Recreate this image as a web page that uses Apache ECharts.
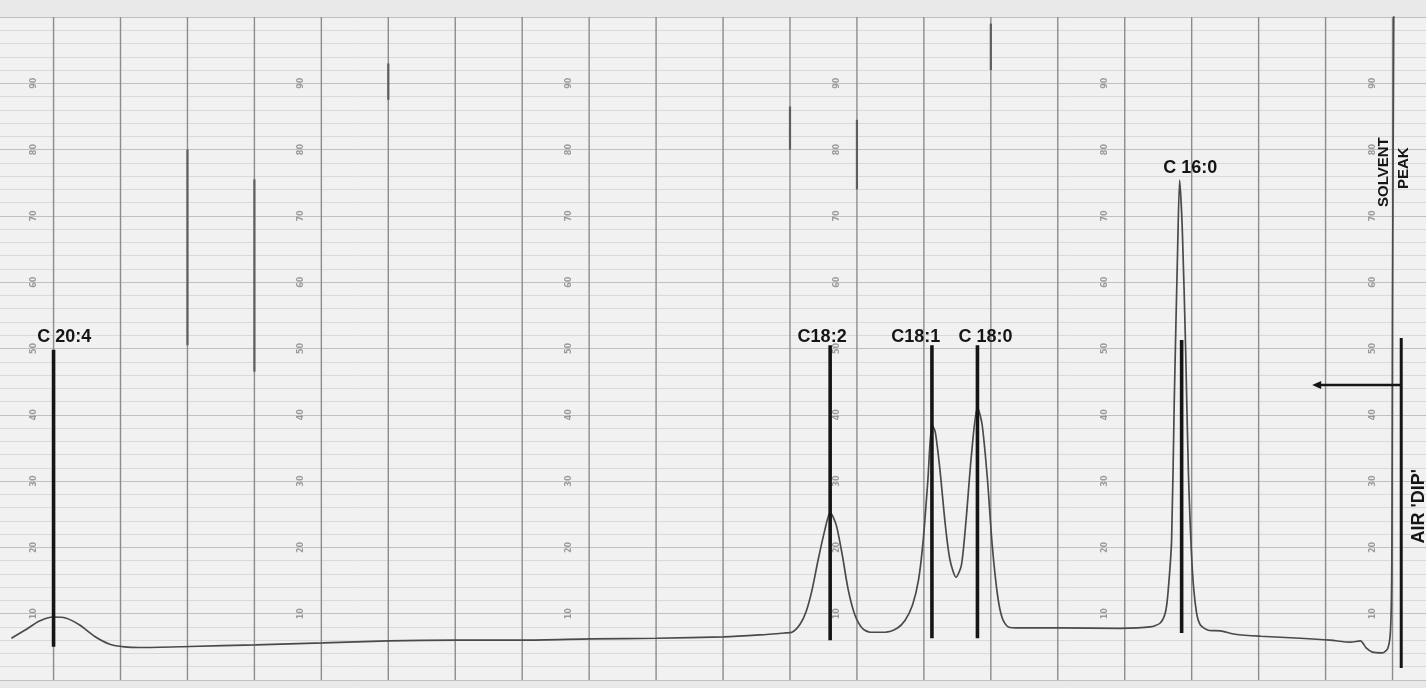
<!DOCTYPE html>
<html>
<head>
<meta charset="utf-8">
<script src="https://cdn.jsdelivr.net/npm/echarts@6/dist/echarts.min.js"></script>
<style>
  html, body { margin: 0; padding: 0; background: #e9e9e9; }
  #chart { width: 1426px; height: 688px; }
</style>
</head>
<body>
<div id="chart"></div>
<script>
// Recorder trace: position along the strip in chart divisions (one per vertical rule),
// pen deflection in % of full scale.
const retention = [
  -0.63, -0.43, -0.21, 0.00, 0.18, 0.39, 0.61, 0.84, 1.06, 1.29, 2.03, 3.02, 4.02, 5.00,
  6.02, 7.03, 8.03, 9.01, 10.01, 10.55, 10.93, 11.03, 11.15, 11.24, 11.33, 11.42, 11.52,
  11.60, 11.69, 11.78, 11.87, 11.97, 12.08, 12.20, 12.42, 12.60, 12.72, 12.83, 12.92,
  12.99, 13.06, 13.12, 13.17, 13.24, 13.32, 13.39, 13.48, 13.56, 13.63, 13.71, 13.80,
  13.87, 13.95, 14.02, 14.10, 14.17, 14.26, 14.44, 15.04, 15.93, 16.38, 16.53, 16.61,
  16.65, 16.70, 16.74, 16.79, 16.82, 16.86, 16.91, 16.95, 17.01, 17.07, 17.13, 17.25,
  17.43, 17.65, 18.03, 18.62, 19.07, 19.37, 19.52, 19.61, 19.70, 19.85, 19.93, 19.97,
  19.99, 20.00, 20.02
];
const response = [
  6.3, 7.5, 8.9, 9.5, 9.35, 8.3, 6.6, 5.4, 5.0, 4.9, 5.05, 5.3, 5.6, 5.9,
  6.0, 6.0, 6.2, 6.3, 6.5, 6.8, 7.1, 7.2, 8.4, 10.3, 13.6, 18.1, 22.6,
  25.3, 23.4, 18.9, 13.6, 9.8, 7.8, 7.2, 7.2, 7.8, 9.0, 11.3, 15.1,
  21.1, 30.2, 38.5, 37.4, 31.7, 23.4, 18.1, 15.5, 17.3, 24.1, 33.9, 41.2,
  38.5, 30.2, 20.4, 12.8, 9.35, 8.0, 7.85, 7.85, 7.8, 8.0, 8.6, 10.3,
  13.6, 21.1, 42.2, 64.9, 75.4, 67.9, 49.8, 31.7, 16.6, 10.3, 8.3, 7.5,
  7.4, 6.9, 6.6, 6.3, 6.0, 5.7, 5.9, 4.8, 4.2, 4.1, 4.8, 7.5,
  18.1, 57.0, 104.0
];

// Vertical rules of the recorder paper, one per division
const paperRules = [0, 1, 2, 3, 4, 5, 6, 7, 8, 9, 10, 11, 12, 13, 14, 15, 16, 17, 18, 19, 20];

// Stretches of rule that were traced over in pencil: [rule, from %, to %]
const pencilledRules = [
  [2, 50.5, 80.0],
  [3, 46.5, 75.5],
  [5, 87.5, 93.0],
  [11, 80.0, 86.5],
  [12, 74.0, 84.5],
  [14, 92.0, 99.0]
];

// Hand-drawn peak identification bars
const peakNames      = ['C 20:4', 'C18:2', 'C18:1', 'C 18:0', 'C 16:0'];
const peakBarTime    = [0.00, 11.60, 13.12, 13.80, 16.85];
const peakBarTop     = [49.8, 50.5, 50.5, 50.5, 51.3];
const peakBarBottom  = [5.0, 6.0, 6.3, 6.3, 7.1];
const peakLabelTime  = [0.16, 11.48, 12.88, 13.92, 16.98];
const peakLabelLevel = [51.8, 51.8, 51.8, 51.8, 77.2];

// Air "dip" bar and the arrow drawn from it
const airBar   = [20.13, 51.6, 1.8];
const airArrow = [[20.13, 44.5], [18.80, 44.5]];

// Rotated notes at the right edge
const sideNotes      = ['SOLVENT', 'PEAK', "AIR 'DIP'"];
const sideNoteTime   = [19.87, 20.17, 20.39];
const sideNoteLevel  = [76.6, 77.2, 26.2];

// Printed scale figures on the recorder paper
const paperFigureColumns = [-0.3, 3.7, 7.7, 11.7, 15.7, 19.7];
const paperFigureRows    = [10, 20, 30, 40, 50, 60, 70, 80, 90];

const INK = '#151515';
const LETTER_FONT = 'bold 18px "Liberation Sans", Arial, sans-serif';
const NOTE_FONTS = [
  'bold 15px "Liberation Sans", Arial, sans-serif',
  'bold 15px "Liberation Sans", Arial, sans-serif',
  'bold 18px "Liberation Sans", Arial, sans-serif'
];

const trace = retention.map((t, i) => [t, response[i]]);
const bars = peakBarTime.map((t, i) => [t, peakBarTop[i], peakBarBottom[i]]);
const labels = peakNames.map((n, i) => [peakLabelTime[i], peakLabelLevel[i], n]);
const notes = sideNotes.map((n, i) => [sideNoteTime[i], sideNoteLevel[i], n]);
const rules = paperRules.map(r => [r, 0, 100]);
const figures = [];
paperFigureColumns.forEach(c => paperFigureRows.forEach(r => figures.push([c, r, String(r)])));

// Vertical stroke between two levels at one position along the strip
function verticalStroke(api, stroke, width) {
  const a = api.coord([api.value(0), api.value(1)]);
  const b = api.coord([api.value(0), api.value(2)]);
  return {
    type: 'line',
    shape: { x1: a[0], y1: a[1], x2: b[0], y2: b[1] },
    style: { stroke: stroke, lineWidth: width }
  };
}

const chart = echarts.init(document.getElementById('chart'), null, { renderer: 'canvas' });

chart.setOption({
  animation: false,
  backgroundColor: '#e9e9e9',
  grid: {
    show: true,
    backgroundColor: '#f1f1f1',
    borderWidth: 0,
    left: 0,
    right: 0,
    top: 17,
    bottom: 8
  },
  xAxis: {
    type: 'value',
    min: -0.8,
    max: 20.5,
    axisLine: { show: false },
    axisTick: { show: false },
    axisLabel: { show: false },
    splitLine: { show: false }
  },
  yAxis: {
    type: 'value',
    min: 0,
    max: 100,
    interval: 10,
    axisLine: { show: false },
    axisTick: { show: false },
    axisLabel: { show: false },
    splitLine: { show: true, lineStyle: { color: '#c0c0c0', width: 1 } },
    minorTick: { show: false, splitNumber: 5 },
    minorSplitLine: { show: true, lineStyle: { color: '#d9d9d9', width: 1 } }
  },
  series: [
    {
      name: 'paper rules',
      type: 'custom',
      silent: true,
      data: rules,
      encode: { x: 0, y: [1, 2] },
      z: 1,
      renderItem: (params, api) => verticalStroke(api, '#8c8c8c', 1.4)
    },
    {
      name: 'pencilled rules',
      type: 'custom',
      silent: true,
      data: pencilledRules,
      encode: { x: 0, y: [1, 2] },
      z: 2,
      renderItem: (params, api) => verticalStroke(api, '#5e5e5e', 2.2)
    },
    {
      name: 'paper figures',
      type: 'custom',
      silent: true,
      data: figures,
      encode: { x: 0, y: 1 },
      z: 1,
      renderItem: (params, api) => {
        const p = api.coord([api.value(0), api.value(1)]);
        return {
          type: 'text',
          x: p[0], y: p[1],
          rotation: Math.PI / 2,
          style: {
            text: figures[params.dataIndex][2],
            font: 'bold 8px "DejaVu Sans", sans-serif',
            fill: '#9a9a9a',
            align: 'center',
            verticalAlign: 'middle'
          }
        };
      }
    },
    {
      name: 'trace',
      type: 'line',
      data: trace,
      showSymbol: false,
      smooth: 0.25,
      clip: true,
      z: 3,
      lineStyle: { color: '#4a4a4a', width: 1.7 }
    },
    {
      name: 'peak bars',
      type: 'custom',
      silent: true,
      data: bars,
      encode: { x: 0, y: [1, 2] },
      z: 4,
      renderItem: (params, api) => verticalStroke(api, INK, 3.6)
    },
    {
      name: 'air dip',
      type: 'custom',
      silent: true,
      data: [airBar],
      encode: { x: 0, y: [1, 2] },
      z: 4,
      renderItem: (params, api) => {
        const s = api.coord(airArrow[0]);
        const e = api.coord(airArrow[1]);
        return {
          type: 'group',
          children: [
            verticalStroke(api, INK, 3),
            { type: 'line', shape: { x1: s[0], y1: s[1], x2: e[0] + 4, y2: e[1] },
              style: { stroke: INK, lineWidth: 2.4 } },
            { type: 'polygon', shape: { points: [[e[0], e[1]], [e[0] + 9, e[1] - 4], [e[0] + 9, e[1] + 4]] },
              style: { fill: INK } }
          ]
        };
      }
    },
    {
      name: 'peak names',
      type: 'custom',
      silent: true,
      data: labels,
      encode: { x: 0, y: 1 },
      z: 5,
      renderItem: (params, api) => {
        const p = api.coord([api.value(0), api.value(1)]);
        return {
          type: 'text',
          x: p[0], y: p[1],
          style: {
            text: labels[params.dataIndex][2],
            font: LETTER_FONT,
            fill: INK,
            align: 'center',
            verticalAlign: 'middle'
          }
        };
      }
    },
    {
      name: 'side notes',
      type: 'custom',
      silent: true,
      data: notes,
      encode: { x: 0, y: 1 },
      z: 5,
      renderItem: (params, api) => {
        const p = api.coord([api.value(0), api.value(1)]);
        return {
          type: 'text',
          x: p[0], y: p[1],
          rotation: Math.PI / 2,
          style: {
            text: notes[params.dataIndex][2],
            font: NOTE_FONTS[params.dataIndex],
            fill: INK,
            align: 'center',
            verticalAlign: 'middle'
          }
        };
      }
    }
  ]
});
</script>
</body>
</html>
